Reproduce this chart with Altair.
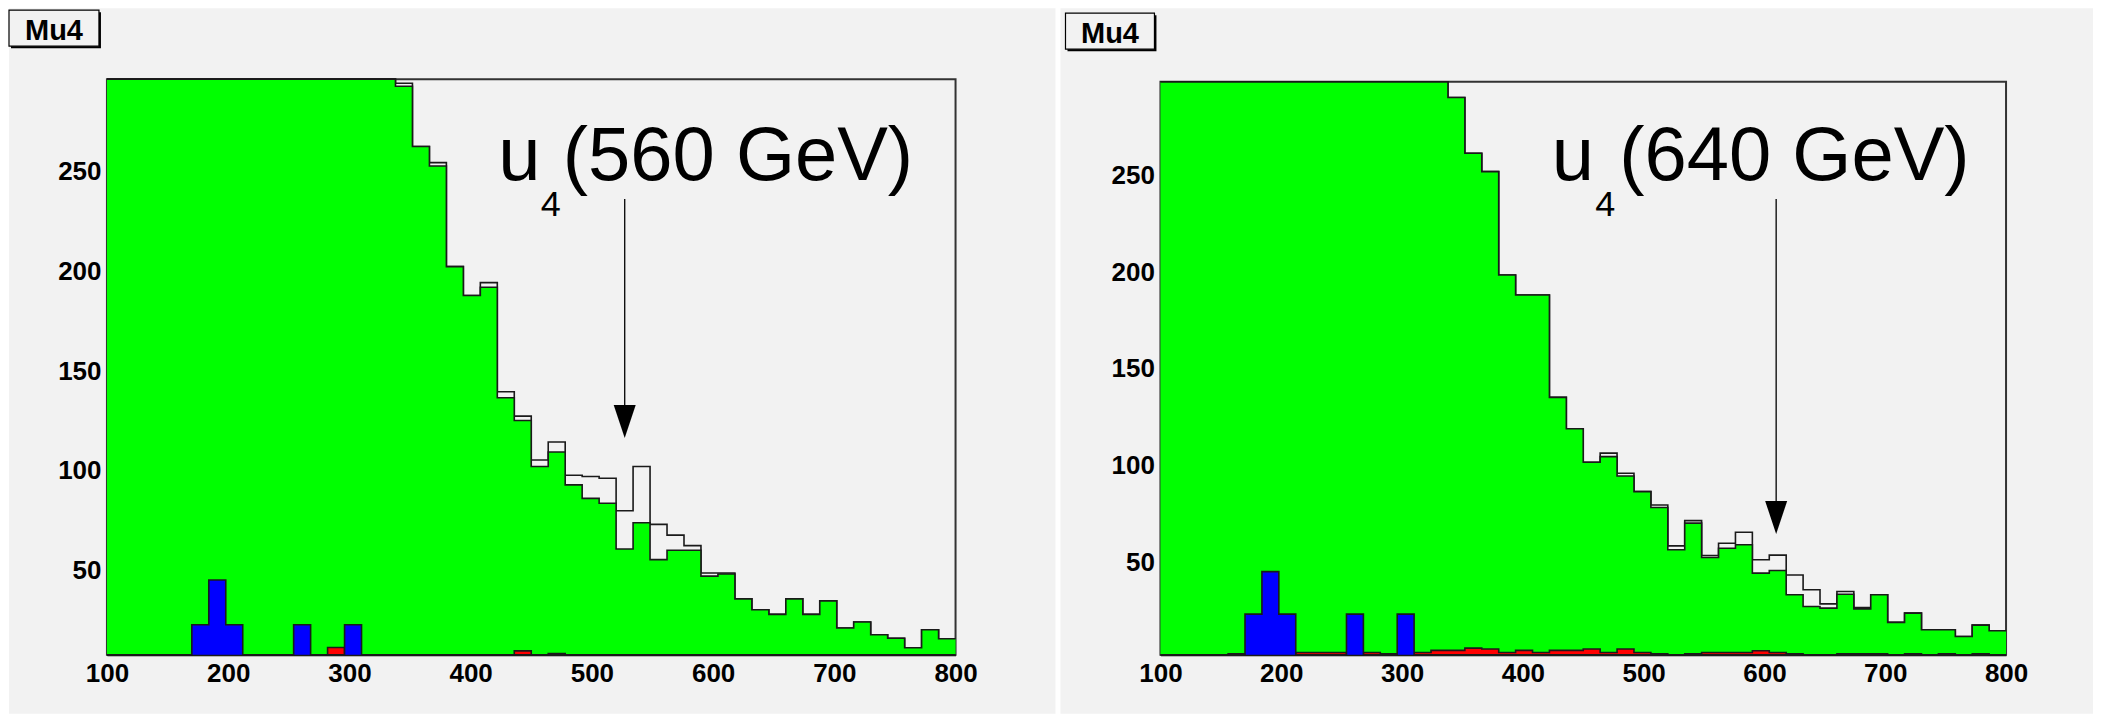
import altair as alt
import pandas as pd

# ---------------- data ----------------
bin_edges = [100, 114, 128, 142, 156, 170, 184, 198, 212, 226, 240, 254, 268, 282,
             296, 310, 324, 338, 352, 366, 380, 394, 408, 422, 436, 450, 464, 478,
             492, 506, 520, 534, 548, 562, 576, 590, 604, 618, 632, 646, 660, 674,
             688, 702, 716, 730, 744, 758, 772, 786, 800]
x_ticks = [100, 200, 300, 400, 500, 600, 700, 800]
y_ticks = [50, 100, 150, 200, 250]

# left panel: u4 (560 GeV)
left_total = [420, 640, 820, 900, 930, 900, 850, 790, 720, 650, 590, 530, 480, 430, 390, 350, 320,
              294.5, 262.8, 254.7, 202.5, 188, 194.5, 139.7, 127.5, 105.5, 114.5, 97.8, 97.2,
              96.3, 80, 102.2, 73.2, 67.8, 62.5, 48.8, 48.8, 35.8, 30.3, 28, 35.8, 28, 34.8,
              21.2, 24.2, 17.8, 16, 11.3, 20.3, 15.8]
left_green = [420, 640, 820, 900, 930, 900, 850, 790, 720, 650, 590, 530, 480, 430, 390, 350, 320,
              293, 262.8, 253, 202.5, 188, 192.2, 136.7, 125.3, 102.2, 109.5, 93, 86.2,
              83.8, 60.8, 74, 55.5, 60.2, 60.2, 47.2, 48.3, 35.8, 30.3, 28, 35.8, 28, 34.8,
              21.2, 24.2, 17.8, 16, 11.3, 20.3, 15.8]
left_red = [0, 0, 0, 0, 0, 0, 0, 0, 0, 0, 0, 0, 0, 11.4, 0, 0, 0, 0, 0, 0, 0, 0, 0, 0, 9.7,
            0, 8.4, 0, 0, 0, 0, 0, 0, 0, 0, 0, 0, 0, 0, 0, 0, 0, 0, 0, 0, 0, 0, 0, 0, 0]
left_blue = [0, 0, 0, 0, 0, 22.8, 45.3, 22.8, 0, 0, 0, 22.8, 0, 0, 22.8, 0, 0, 0, 0, 0, 0, 0,
             0, 0, 0, 0, 0, 0, 0, 0, 0, 0, 0, 0, 0, 0, 0, 0, 0, 0, 0, 0, 0, 0, 0, 0, 0, 0, 0, 0]
left_y_domain = [7.7, 296.6]

# right panel: u4 (640 GeV)
right_total = [400, 610, 800, 890, 920, 900, 860, 800, 730, 660, 600, 540, 490, 440, 400, 360, 325,
               290.5, 261.6, 252.1, 198.6, 188.3, 188.3, 135.3, 119.0, 101.7, 106.4, 96.0, 86.5,
               79.6, 58.4, 71.5, 53.4, 59.8, 65.5, 51.2, 53.6, 43.3, 35.7, 28.4, 34.8, 26.5, 33.1,
               18.8, 23.6, 15.0, 15.0, 11.5, 17.4, 14.5]
right_green = [400, 610, 800, 890, 920, 900, 860, 800, 730, 660, 600, 540, 490, 440, 400, 360, 325,
               290.5, 261.6, 252.1, 198.6, 188.3, 188.3, 135.3, 119.0, 101.7, 104.6, 94.6, 86.5,
               78.3, 56.4, 70.2, 52.4, 57.2, 59.0, 44.3, 45.7, 33.1, 27.0, 26.2, 33.4, 25.8, 33.1,
               18.8, 23.6, 15.0, 15.0, 11.5, 17.4, 14.5]
right_red = [0, 0, 0, 0, 2.5, 0, 0, 0, 3.2, 3.2, 3.2, 0, 3.2, 2.5, 0, 3.2, 4.3, 4.3, 5.5, 5.0,
             3.2, 4.3, 3.2, 4.3, 4.3, 5.0, 3.2, 5.0, 3.2, 2.5, 0, 2.5, 3.2, 3.2, 3.2, 4.1, 3.2,
             2.5, 0, 0, 2.5, 2.5, 2.5, 0, 2.5, 0, 2.5, 0, 2.5, 0]
right_blue = [0, 0, 0, 0, 0, 23.1, 45.1, 23.1, 0, 0, 0, 23.1, 0, 0, 23.1, 0, 0, 0, 0, 0, 0, 0,
              0, 0, 0, 0, 0, 0, 0, 0, 0, 0, 0, 0, 0, 0, 0, 0, 0, 0, 0, 0, 0, 0, 0, 0, 0, 0, 0, 0]
right_y_domain = [2.0, 298.6]

# annotations (data coordinates)
left_label_x = [422.8, 457.9, 476.0]
left_label_y = [245.9, 228.0, 245.9]
left_label_text = ["u", "4", "(560 GeV)"]
right_label_x = [423.9, 459.9, 479.8]
right_label_y = [247.7, 229.2, 247.7]
right_label_text = ["u", "4", "(640 GeV)"]
label_sizes = [76, 36, 76]

left_arrow = {"x": 527.1, "top": 236.4, "base": 133.1, "head": 124.8}
right_arrow = {"x": 609.7, "top": 237.9, "base": 81.7, "head": 73.1}

BG = "#f2f2f2"
LINE = "#1a1a1a"
FONT = "Liberation Sans"
HEAD_SHAPE = "M-0.667,-1L0.667,-1L0,1Z"


def hist_frame(total, green, red, blue):
    rows = []
    n = len(total)
    for i, e in enumerate(bin_edges):
        j = min(i, n - 1)
        rows.append({"x": e, "total": total[j], "green": green[j],
                     "red": red[j], "blue": blue[j]})
    return pd.DataFrame(rows)


def make_panel(total, green, red, blue, ydom, xr, yr, width, height,
               lab_x, lab_y, lab_t, arrow, box, box_text_pos):
    df = hist_frame(total, green, red, blue)
    xs = alt.Scale(domain=[100, 800], range=xr, nice=False, zero=False)
    ys = alt.Scale(domain=ydom, range=yr, nice=False, zero=False, clamp=True)
    xaxis = alt.Axis(values=x_ticks, title=None, grid=False, ticks=False, tickSize=0,
                     domain=True, domainColor="black", domainWidth=2,
                     labelFont=FONT, labelFontWeight="bold", labelFontSize=26,
                     labelColor="black", labelPadding=6, labelFlush=False,
                     labelOverlap=False, offset=-(height - yr[0]))
    yaxis = alt.Axis(values=y_ticks, title=None, grid=False, ticks=False, tickSize=0,
                     domain=False, labelFont=FONT, labelFontWeight="bold",
                     labelFontSize=26, labelColor="black", labelPadding=6,
                     labelFlush=False, labelOverlap=False, offset=-xr[0])

    def X(f):
        return alt.X(f, type="quantitative", scale=xs, axis=xaxis)

    def Y(f):
        return alt.Y(f, type="quantitative", scale=ys, axis=yaxis)

    frame_df = pd.DataFrame([{"x0": 100, "x1": 800, "y0": ydom[0], "y1": ydom[1]}])
    frame = alt.Chart(frame_df).mark_rect(filled=False, stroke="#333333", strokeWidth=2).encode(
        x=X("x0"), x2="x1", y=Y("y0"), y2="y1")

    base = alt.Chart(df)
    total_line = base.mark_line(interpolate="step-after", color=LINE, strokeWidth=1.6).encode(
        x=X("x"), y=Y("total"))
    layers = [frame, total_line]
    for field, col in [("green", "#00ff00"), ("red", "#ff0000"), ("blue", "#0000ff")]:
        layers.append(base.mark_area(interpolate="step-after", color=col, opacity=1).encode(
            x=X("x"), y=Y(field), y2=alt.datum(0)))
        layers.append(base.mark_line(interpolate="step-after", color=LINE, strokeWidth=1.6).encode(
            x=X("x"), y=Y(field)))

    arrow_df = pd.DataFrame([arrow])
    layers.append(alt.Chart(arrow_df).mark_rule(color="black", strokeWidth=1.3).encode(
        x=X("x"), y=Y("top"), y2="base"))
    layers.append(alt.Chart(arrow_df).mark_point(shape=HEAD_SHAPE, size=1089, filled=True,
                                                 color="black", opacity=1, strokeWidth=0).encode(
        x=X("x"), y=Y("head")))

    lab_df = pd.DataFrame({"x": lab_x, "y": lab_y, "t": lab_t, "s": label_sizes})
    for i in range(len(lab_t)):
        layers.append(alt.Chart(lab_df.iloc[[i]]).mark_text(
            font=FONT, fontSize=label_sizes[i], align="left", baseline="alphabetic",
            color="black").encode(x=X("x"), y=Y("y"), text="t:N"))

    # "Mu4" title box
    t_df = pd.DataFrame({"t": ["Mu4"]})
    bx0, by0, bx1, by1 = box
    layers.append(alt.Chart(t_df).mark_rect(color="black").encode(
        x=alt.value(bx0 + 2), x2=alt.value(bx1 + 2), y=alt.value(by0 + 2), y2=alt.value(by1 + 2)))
    layers.append(alt.Chart(t_df).mark_rect(fill=BG, stroke="black", strokeWidth=1.2).encode(
        x=alt.value(bx0), x2=alt.value(bx1), y=alt.value(by0), y2=alt.value(by1)))
    layers.append(alt.Chart(t_df).mark_text(font=FONT, fontSize=29, fontWeight="bold",
                                            align="center", baseline="alphabetic",
                                            color="black").encode(
        x=alt.value(box_text_pos[0]), y=alt.value(box_text_pos[1]), text="t:N"))

    return alt.layer(*layers).properties(width=width, height=height)


H = 706
left = make_panel(left_total, left_green, left_red, left_blue, left_y_domain,
                  [98, 947], [647, 71], 1047, H,
                  left_label_x, left_label_y, left_label_text, left_arrow,
                  (0, 2, 90, 38), (45, 32))
right = make_panel(right_total, right_green, right_red, right_blue, right_y_domain,
                   [100, 946], [647, 73.7], 1033, H,
                   right_label_x, right_label_y, right_label_text, right_arrow,
                   (5, 5, 94, 41), (49.5, 35))

chart = alt.hconcat(left, right, spacing=5).configure_view(
    fill=BG, strokeWidth=0).properties(background="white", padding=0)

chart.save("out.html", embed_options={"renderer": "svg", "actions": False})
